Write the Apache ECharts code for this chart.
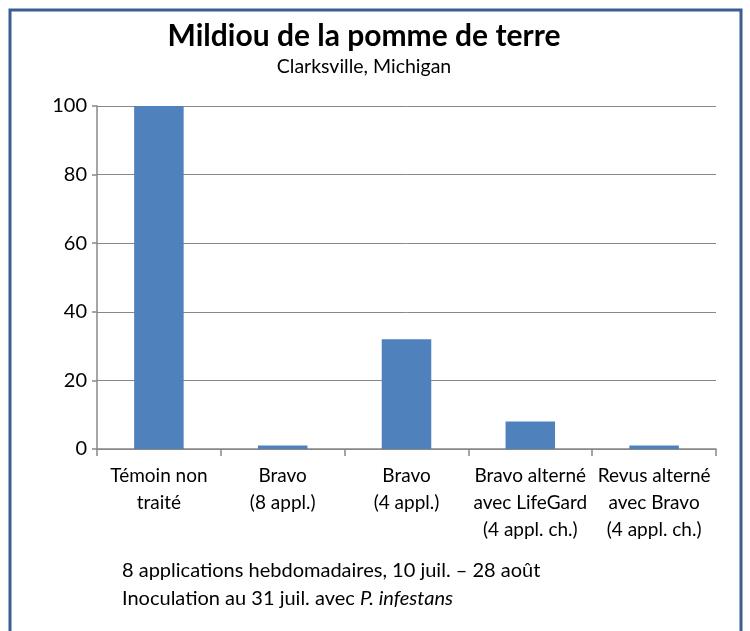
<!DOCTYPE html>
<html>
<head>
<meta charset="utf-8">
<script src="https://cdn.jsdelivr.net/npm/echarts@6/dist/echarts.min.js"></script>
<style>
html, body { margin: 0; padding: 0; background: #fff; }
#chart { width: 750px; height: 631px; }
</style>
</head>
<body>
<div id="chart"></div>
<script>
// catégories et valeurs (% de mildiou)
var categories = [
	"Témoin non\ntraité",
	"Bravo\n(8 appl.)",
	"Bravo\n(4 appl.)",
	"Bravo alterné\navec LifeGard\n(4 appl. ch.)",
	"Revus alterné\navec Bravo\n(4 appl. ch.)"
];
var values = [100, 1, 32, 8, 1];
var yTicks = { min: 0, max: 100, interval: 20 };

var myChart = echarts.init(document.getElementById("chart"));
var font = "Lato, 'Open Sans', sans-serif";

var option = {
	animation: false,
	textStyle: { fontFamily: font, color: "#000" },
	grid: { left: 97, right: 34, top: 106, bottom: 182 },
	xAxis: {
		type: "category",
		data: categories,
		axisLine: { lineStyle: { color: "#888", width: 1.5 } },
		axisTick: { show: true, length: 7, lineStyle: { color: "#888", width: 1.5 } },
		axisLabel: { interval: 0, color: "#000", fontSize: 19, lineHeight: 27, margin: 13, fontFamily: font }
	},
	yAxis: {
		type: "value",
		min: yTicks.min,
		max: yTicks.max,
		interval: yTicks.interval,
		axisLine: { show: true, lineStyle: { color: "#888", width: 1.5 } },
		axisTick: { show: true, length: 5, lineStyle: { color: "#888", width: 1.5 } },
		axisLabel: { color: "#000", fontSize: 20, margin: 10, fontFamily: font },
		splitLine: { lineStyle: { color: "#888", width: 1 } }
	},
	series: [{
		type: "bar",
		data: values,
		barWidth: "40%",
		itemStyle: { color: "#4F81BD" }
	}],
	graphic: [{
		type: "rect",
		shape: { x: 10, y: 10, width: 731, height: 640 },
		style: { fill: "none", stroke: "#3A5F8F", lineWidth: 3 }
	}, {
		// titre
		type: "text",
		x: 364,
		y: 36,
		style: {
			text: "Mildiou de la pomme de terre",
			fontSize: 30,
			fontWeight: "bold",
			fill: "#000",
			fontFamily: font,
			align: "center",
			verticalAlign: "middle"
		}
	}, {
		type: "text",
		x: 364,
		y: 67,
		style: {
			text: "Clarksville, Michigan",
			fontSize: 19.5,
			fill: "#000",
			fontFamily: font,
			align: "center",
			verticalAlign: "middle"
		}
	}, {
		type: "text",
		left: 122,
		top: 557,
		style: {
			text: "8 applications hebdomadaires, 10 juil. – 28 août\nInoculation au 31 juil. avec {i|P. infestans}",
			fontSize: 20,
			lineHeight: 28,
			fill: "#000",
			fontFamily: font,
			rich: { i: { fontStyle: "italic", fontSize: 20, fontFamily: font } }
		}
	}]
};
myChart.setOption(option);
</script>
</body>
</html>
